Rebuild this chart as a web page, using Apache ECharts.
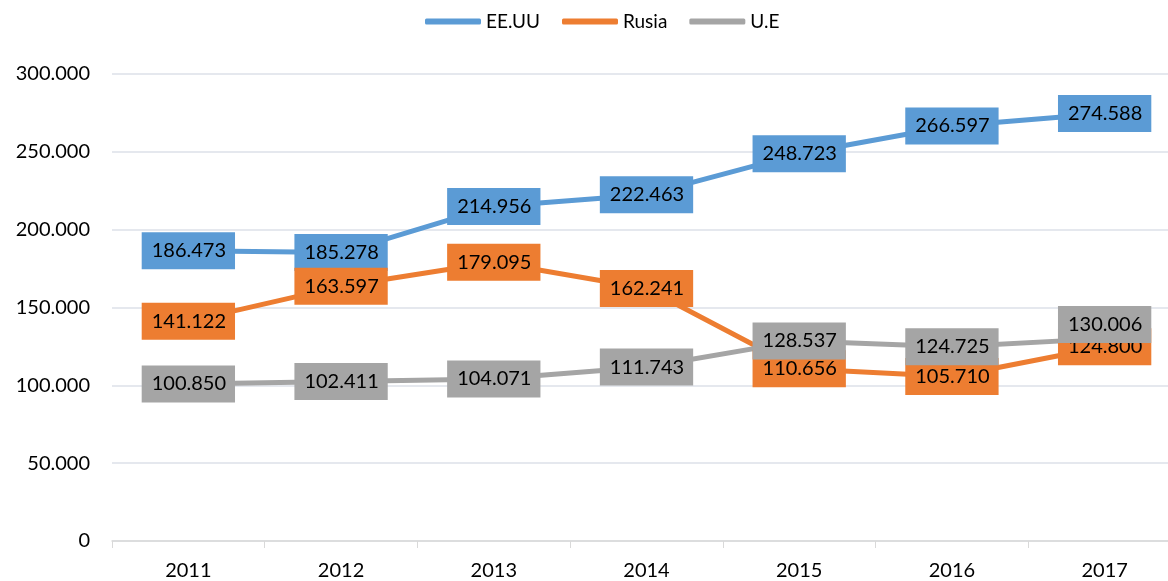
<!DOCTYPE html>
<html>
<head>
<meta charset="utf-8">
<script src="https://cdn.jsdelivr.net/npm/echarts@6/dist/echarts.min.js"></script>
<style>
html,body{margin:0;padding:0;background:#fff;overflow:hidden;}
#chart{width:1181px;height:581px;}
</style>
</head>
<body>
<div id="chart"></div>
<script>
var years = ['2011', '2012', '2013', '2014', '2015', '2016', '2017'];
var eeuu = [186473, 185278, 214956, 222463, 248723, 266597, 274588];
var rusia = [141122, 163597, 179095, 162241, 110656, 105710, 124800];
var ue = [100850, 102411, 104071, 111743, 128537, 124725, 130006];

function fmt(v) {
  return String(v).replace(/\B(?=(\d{3})+(?!\d))/g, '.');
}

function mkSeries(name, data, color) {
  return {
    name: name,
    type: 'line',
    data: data,
    symbol: 'circle',
    symbolSize: 1,
    showSymbol: true,
    lineStyle: { width: 5, color: color },
    itemStyle: { color: color },
    label: {
      show: true,
      position: 'inside',
      formatter: function (p) { return fmt(p.value); },
      backgroundColor: color,
      color: '#000',
      fontFamily: 'Lato',
      fontSize: 20,
      lineHeight: 20,
      padding: [9, 9, 8, 10]
    }
  };
}

var chart = echarts.init(document.getElementById('chart'));
var ueSeries = mkSeries('U.E', ue, '#a5a5a5');
// la etiqueta de 2017 va un poco mas arriba
ueSeries.data = ue.map(function (v, i) {
  if (i === 6) return { value: v, label: { offset: [0, -14] } };
  return v;
});

var option = {
  animation: false,
  textStyle: { fontFamily: 'Lato' },
  legend: {
    top: 7,
    left: 420,
    itemWidth: 56,
    itemHeight: 6,
    itemGap: 22,
    icon: 'roundRect',
    textStyle: { fontSize: 19, color: '#000', fontFamily: 'Lato' },
    data: ['EE.UU', 'Rusia', 'U.E']
  },
  grid: { left: 112, right: 0, top: 74, bottom: 40, containLabel: false },
  xAxis: {
    type: 'category',
    data: years,
    boundaryGap: true,
    axisLine: { lineStyle: { color: '#d9d9d9', width: 1.5 } },
    axisTick: { show: true, length: 7, lineStyle: { color: '#d9d9d9' } },
    axisLabel: { color: '#000', fontSize: 20, fontFamily: 'Lato', margin: 20 }
  },
  yAxis: {
    type: 'value',
    min: 0,
    max: 300000,
    interval: 50000,
    axisLine: { show: false },
    axisTick: { show: false },
    splitLine: { lineStyle: { color: '#dde1e8', width: 1.5 } },
    axisLabel: {
      color: '#000',
      fontSize: 20,
      fontFamily: 'Lato',
      margin: 22,
      formatter: function (v) { return fmt(v); }
    }
  },
  series: [
    mkSeries('EE.UU', eeuu, '#5b9bd5'),
    mkSeries('Rusia', rusia, '#ed7d31'),
    ueSeries
  ]
};
chart.setOption(option);
</script>
</body>
</html>
